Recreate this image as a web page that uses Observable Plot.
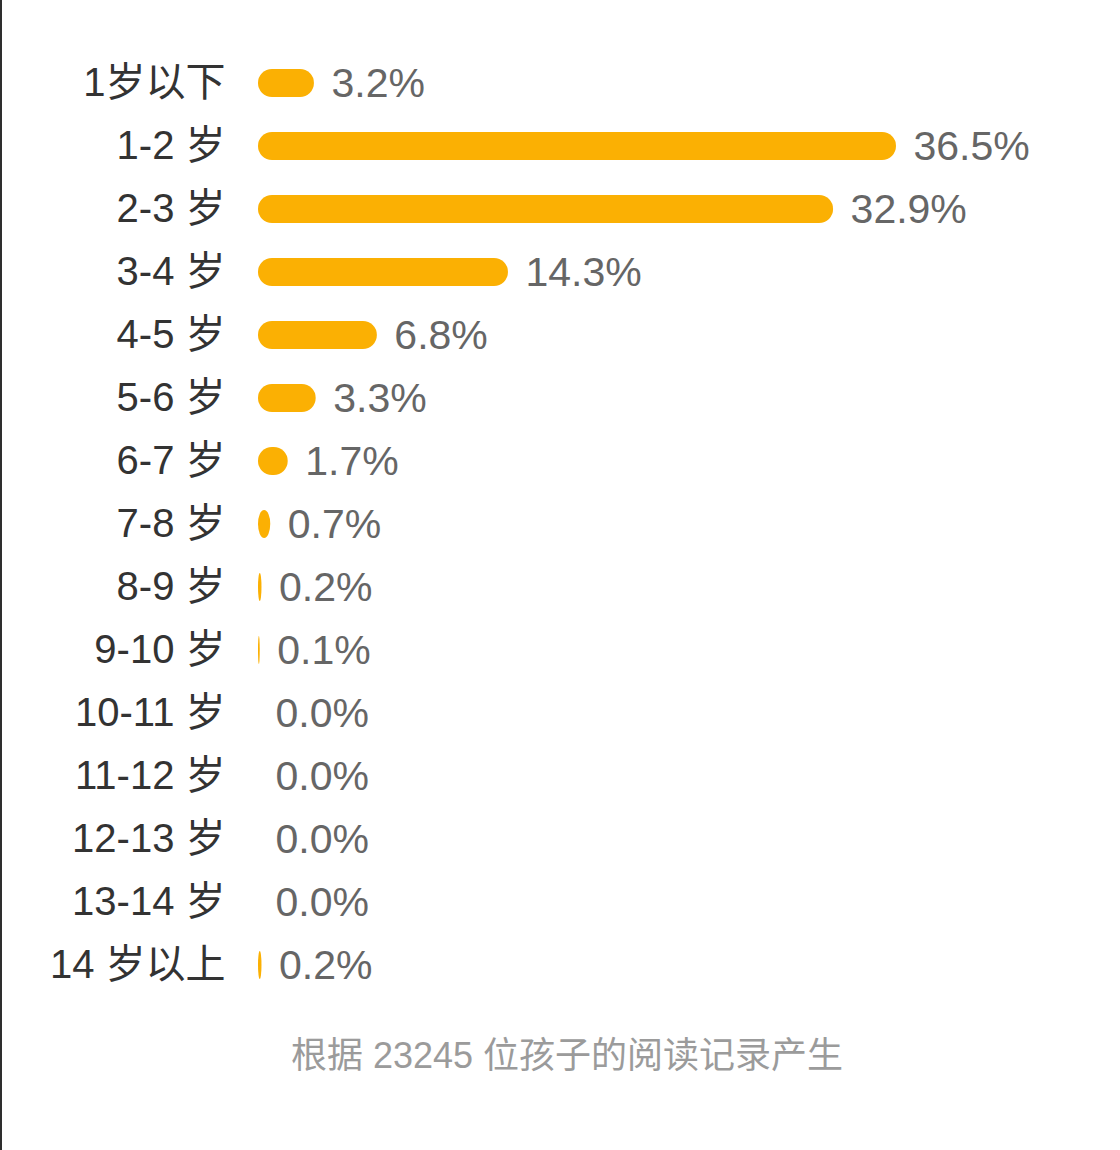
<!DOCTYPE html>
<html>
<head>
<meta charset="utf-8">
<script src="https://cdn.jsdelivr.net/npm/d3@7"></script>
<script src="https://cdn.jsdelivr.net/npm/@observablehq/plot@0.6"></script>
<style>
  html, body { margin: 0; padding: 0; background: #fff; }
  body { width: 1120px; height: 1150px; position: relative; overflow: hidden;
         font-family: "Liberation Sans", "Noto Sans CJK SC", sans-serif; }
  #edge { position: absolute; left: 0; top: 0; width: 2px; height: 1150px; background: #2e2e2e; }
  #chart svg { display: block; }
  #caption { text-align: center; font-size: 36px; color: #9b9b9b; margin-top: 36px; line-height: 40px;
             padding-left: 14px; }
</style>
</head>
<body>
<div id="edge"></div>
<div id="chart"></div>
<div id="caption">根据 23245 位孩子的阅读记录产生</div>
<script>
const ages = ["1岁以下","1-2岁","2-3岁","3-4岁","4-5岁","5-6岁","6-7岁","7-8岁","8-9岁","9-10岁","10-11岁","11-12岁","12-13岁","13-14岁","14岁以上"];
const ageLabels = ["1岁以下","1-2 岁","2-3 岁","3-4 岁","4-5 岁","5-6 岁","6-7 岁","7-8 岁","8-9 岁","9-10 岁","10-11 岁","11-12 岁","12-13 岁","13-14 岁","14 岁以上"];
const shares = [3.2, 36.5, 32.9, 14.3, 6.8, 3.3, 1.7, 0.7, 0.2, 0.1, 0.0, 0.0, 0.0, 0.0, 0.2];

const data = ages.map((a, i) => ({age: a, label: ageLabels[i], value: shares[i]}));

const chart = Plot.plot({
  width: 1120,
  height: 1000,
  marginTop: 0,
  marginBottom: 0,
  marginLeft: 258,
  marginRight: 224,
  style: {fontFamily: '"Liberation Sans", "Noto Sans CJK SC", sans-serif', background: "#fff"},
  x: {domain: [0, 36.5], axis: null},
  y: {domain: ages, range: [51.5, 996.5], paddingInner: 0.556, paddingOuter: 0.278, round: false, axis: null},
  marks: [
    Plot.barX(data, {x: "value", y: "age", fill: "#fbb003", rx: 14, ry: 14}),
    Plot.text(data, {x: 0, y: "age", text: "label", textAnchor: "end", dx: -33, fontSize: 40, fill: "#333"}),
    Plot.text(data, {x: "value", y: "age", text: d => d.value.toFixed(1) + "%", textAnchor: "start", dx: 17, fontSize: 41, fill: "#666"})
  ]
});
document.getElementById("chart").appendChild(chart);
</script>
</body>
</html>
